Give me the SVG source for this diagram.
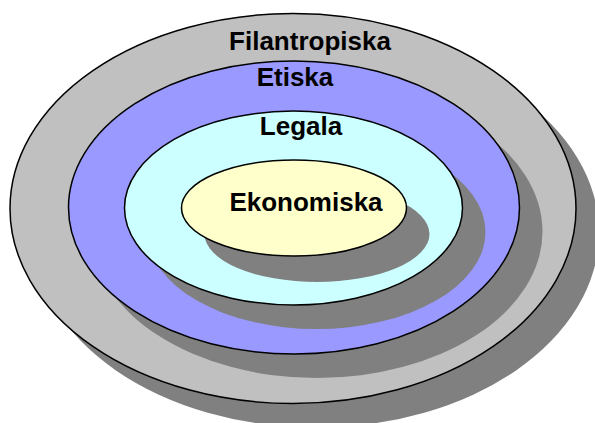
<svg xmlns="http://www.w3.org/2000/svg" width="595" height="423" viewBox="0 0 595 423">
<style>
.sh{fill:#808080;stroke:none}
.el{stroke:#000;stroke-width:1.5}
.t{font-family:"Liberation Sans",Arial,sans-serif;font-weight:bold;font-size:26px;fill:#000;text-anchor:middle}
</style>
<rect width="595" height="423" fill="#fff"/>
<g id="filantropiska">
<ellipse class="sh" cx="316" cy="232.5" rx="283" ry="195"/>
<ellipse class="el" cx="293" cy="208.5" rx="283" ry="195" fill="#C0C0C0"/>
<text class="t" x="310" y="50">Filantropiska</text>
</g>
<g id="etiska">
<ellipse class="sh" cx="317" cy="231.5" rx="225.5" ry="146.5"/>
<ellipse class="el" cx="294" cy="207.5" rx="225.5" ry="146.5" fill="#9999FF"/>
<text class="t" x="295" y="86">Etiska</text>
</g>
<g id="legala">
<ellipse class="sh" cx="316.5" cy="232" rx="169" ry="97"/>
<ellipse class="el" cx="293.5" cy="208" rx="169" ry="97" fill="#CCFFFF"/>
<text class="t" x="301" y="135">Legala</text>
</g>
<g id="ekonomiska">
<ellipse class="sh" cx="317" cy="234" rx="112.5" ry="48"/>
<ellipse class="el" cx="294" cy="208" rx="112.5" ry="48" fill="#FFFFCC"/>
<text class="t" x="306" y="211">Ekonomiska</text>
</g>
<g id="connectors"/>
</svg>
